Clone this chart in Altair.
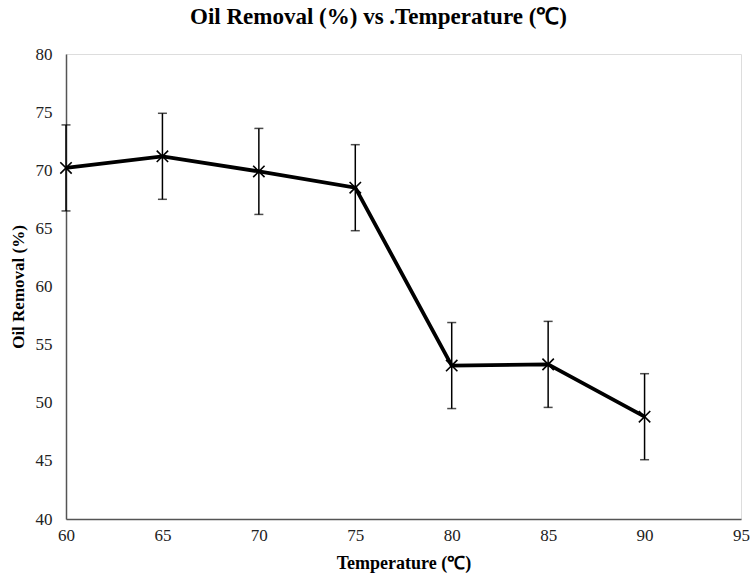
import altair as alt
import pandas as pd

temps = [60, 65, 70, 75, 80, 85, 90]
removal = [70.2, 71.2, 69.9, 68.5, 53.2, 53.3, 48.8]
err = [3.7, 3.7, 3.7, 3.7, 3.7, 3.7, 3.7]

df = pd.DataFrame({"T": temps, "R": removal, "E": err})
df["lo"] = df["R"] - df["E"]
df["hi"] = df["R"] + df["E"]

FONT = "Liberation Serif"

xsc = alt.Scale(domain=[60, 95], nice=False, zero=False)
ysc = alt.Scale(domain=[40, 80], nice=False, zero=False)

xax = alt.Axis(values=[60, 65, 70, 75, 80, 85, 90, 95], ticks=False, grid=False,
               labelFont=FONT, labelFontSize=17, labelColor="#222", labelPadding=8,
               labelFlush=False, labelOverlap=False,
               title="Temperature (℃)", titleFont=FONT, titleFontSize=18, titleFontWeight="bold",
               titleColor="#000", titlePadding=11, domainColor="#555", domainWidth=1.5)
yax = alt.Axis(values=[40, 45, 50, 55, 60, 65, 70, 75, 80], ticks=False, grid=False,
               labelFont=FONT, labelFontSize=17, labelColor="#222", labelPadding=14,
               labelFlush=False, labelOverlap=False,
               title="Oil Removal (%)", titleFont=FONT, titleFontSize=17, titleFontWeight="bold",
               titleColor="#000", titlePadding=8, domainColor="#555", domainWidth=1.5)

base = alt.Chart(df)

rules = base.mark_rule(color="#000", strokeWidth=1.5).encode(
    x=alt.X("T:Q", scale=xsc, axis=xax),
    y=alt.Y("lo:Q", scale=ysc, axis=yax),
    y2="hi:Q",
)
cap_lo = base.mark_tick(orient="horizontal", color="#000", size=9, thickness=1.5).encode(
    x=alt.X("T:Q", scale=xsc), y=alt.Y("lo:Q", scale=ysc))
cap_hi = base.mark_tick(orient="horizontal", color="#000", size=9, thickness=1.5).encode(
    x=alt.X("T:Q", scale=xsc), y=alt.Y("hi:Q", scale=ysc))
line = base.mark_line(color="#000", strokeWidth=3.8).encode(
    x=alt.X("T:Q", scale=xsc), y=alt.Y("R:Q", scale=ysc))
pts = base.mark_point(shape="M-1,-1L1,1M-1,1L1,-1", stroke="#000", size=130, strokeWidth=1.6,
                      filled=False, opacity=1).encode(
    x=alt.X("T:Q", scale=xsc), y=alt.Y("R:Q", scale=ysc))

chart = alt.layer(rules, cap_lo, cap_hi, line, pts).properties(
    width=675, height=465,
    title=alt.TitleParams("Oil Removal (%) vs .Temperature (℃)", font=FONT, fontSize=23,
                          fontWeight="bold", color="#000", offset=16, anchor="middle", dx=-25),
    autosize=alt.AutoSizeParams(type="none"),
    padding={"left": 66, "top": 54, "right": 13, "bottom": 59},
).configure_view(stroke=None).configure(background="white")

chart.save("out.html", embed_options={"renderer": "svg", "actions": False})
